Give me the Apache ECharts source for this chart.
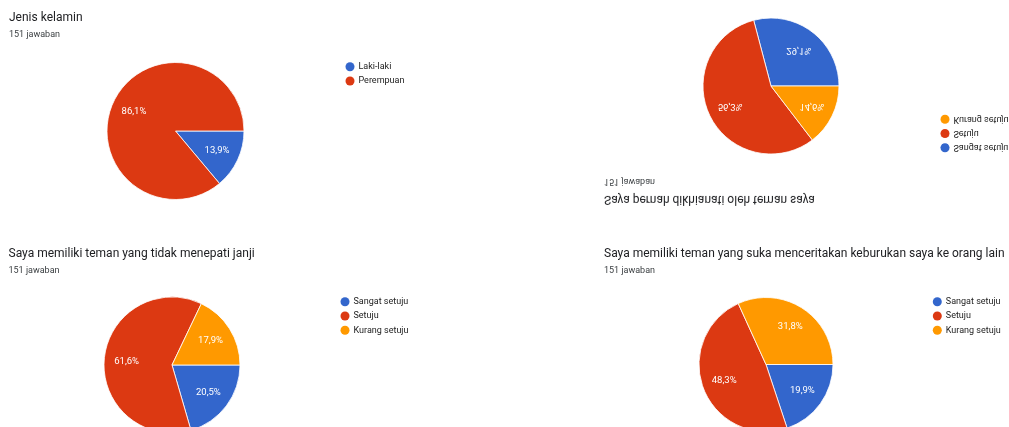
<!DOCTYPE html>
<html>
<head>
<meta charset="utf-8">
<script src="https://cdn.jsdelivr.net/npm/echarts@6/dist/echarts.min.js"></script>
<style>
  html, body { margin: 0; padding: 0; background: #fff; }
  body { width: 1009px; height: 427px; position: relative; overflow: hidden; }
  .panel { position: absolute; }
</style>
</head>
<body>
<div id="p1" class="panel" style="left:0;top:0;width:500px;height:215px;"></div>
<div id="p2" class="panel" style="left:590px;top:0;width:419px;height:220px;transform:scaleY(-1);"></div>
<div id="p3" class="panel" style="left:0;top:230px;width:500px;height:197px;"></div>
<div id="p4" class="panel" style="left:590px;top:230px;width:419px;height:197px;"></div>
<script>
// ---- data ----
const titles = [
  'Jenis kelamin',
  'Saya pernah dikhianati oleh teman saya',
  'Saya memiliki teman yang tidak menepati janji',
  'Saya memiliki teman yang suka menceritakan keburukan saya ke orang lain'
];
const responses = '151 jawaban';
const genderCats = ['Laki-laki', 'Perempuan'];
const agreeCats = ['Sangat setuju', 'Setuju', 'Kurang setuju'];
const genderVals = [13.9, 86.1];
const betrayedVals = [29.1, 56.3, 14.6];
const promiseVals = [20.5, 61.6, 17.9];
const gossipVals = [19.9, 48.3, 31.8];

const COLORS = ['#3366cc', '#dc3912', '#ff9900'];
const FONT = 'Roboto, "Noto Sans", Arial, sans-serif';

function build(title, cats, vals, L) {
  const k = 1.23;
  return {
    animation: false,
    color: COLORS,
    title: {
      text: title,
      subtext: responses,
      left: L.tx, top: L.ty,
      padding: 0,
      itemGap: L.gap,
      textStyle: { fontFamily: FONT, fontSize: 12, fontWeight: 'normal', color: '#202124' },
      subtextStyle: { fontFamily: FONT, fontSize: 9, color: '#3c4043' }
    },
    legend: {
      orient: 'vertical',
      left: L.lx, top: L.ly,
      padding: 0,
      icon: 'circle',
      itemWidth: 9, itemHeight: 9, itemGap: L.lg,
      itemStyle: { borderWidth: 0 },
      textStyle: { fontFamily: FONT, fontSize: 9, color: '#222', lineHeight: 9, padding: [0, 0, 0, -1] },
      data: cats
    },
    series: [{
      type: 'pie',
      center: [L.cx, L.cy],
      radius: L.r,
      startAngle: 0,
      clockwise: true,
      silent: true,
      itemStyle: { borderColor: '#fff', borderWidth: 0.8, borderJoin: 'round' },
      labelLine: { show: false },
      label: {
        position: 'inside',
        color: '#fff',
        fontFamily: FONT,
        fontSize: 9.5,
        formatter: p => p.value.toFixed(1).replace('.', ',') + '%'
      },
      labelLayout: function (p) {
        const r = p.labelRect;
        const x = r.x + r.width / 2, y = r.y + r.height / 2;
        return { x: L.cx + (x - L.cx) * k, y: L.cy + (y - L.cy) * k };
      },
      data: cats.map((c, i) => ({ name: c, value: vals[i] }))
    }]
  };
}

const panels = [
  ['p1', titles[0], genderCats, genderVals, { tx: 9, ty: 12, gap: 6, lx: 345.5, ly: 62.2, lg: 5.3, cx: 175.5, cy: 131, r: 68.5 }],
  ['p2', titles[1], agreeCats, betrayedVals, { tx: 14, ty: 14.5, gap: 8, lx: 350.5, ly: 67.8, lg: 5.2, cx: 181, cy: 134, r: 68 }],
  ['p3', titles[2], agreeCats, promiseVals, { tx: 8.5, ty: 18, gap: 6, lx: 340.5, ly: 67.2, lg: 5.3, cx: 172, cy: 135, r: 68 }],
  ['p4', titles[3], agreeCats, gossipVals, { tx: 14, ty: 18, gap: 6, lx: 342.8, ly: 67.2, lg: 5.3, cx: 176, cy: 134.5, r: 67 }]
];
panels.forEach(([id, t, c, v, L]) => {
  const ch = echarts.init(document.getElementById(id), null, { renderer: 'canvas' });
  ch.setOption(build(t, c, v, L));
});
</script>
</body>
</html>
